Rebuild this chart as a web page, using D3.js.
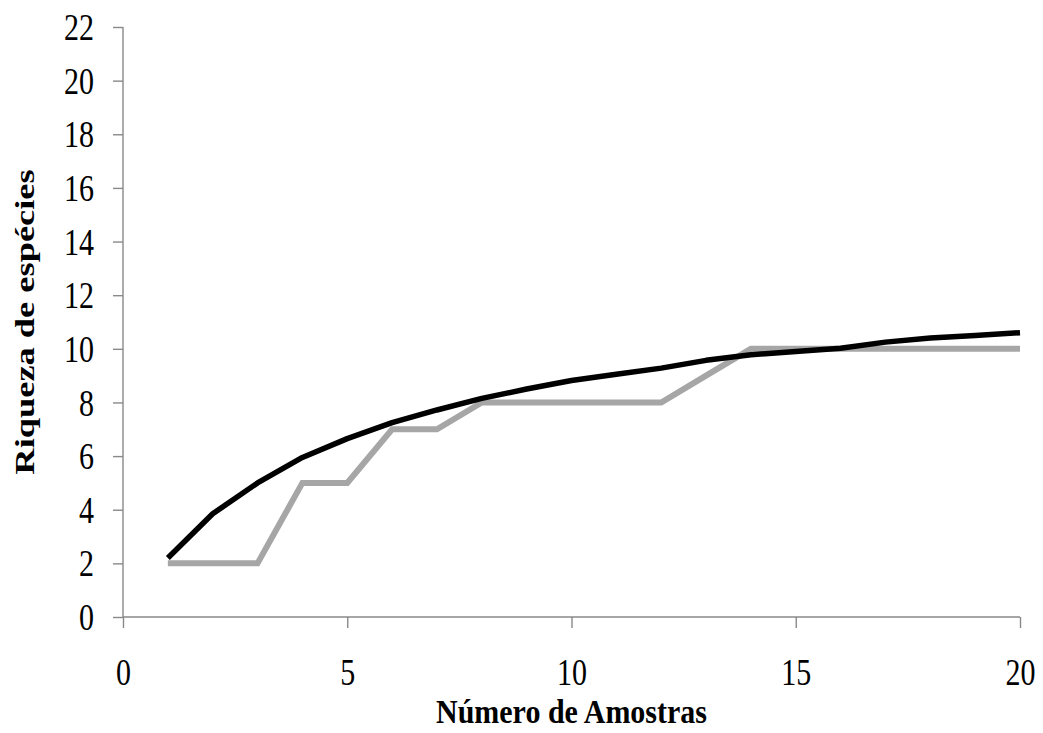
<!DOCTYPE html>
<html>
<head>
<meta charset="utf-8">
<script src="https://cdn.jsdelivr.net/npm/d3@7"></script>
<style>
  html, body { margin: 0; padding: 0; background: #fff; }
  svg { display: block; }
  text { font-family: "Liberation Serif", "Times New Roman", serif; fill: #000; }
</style>
</head>
<body>
<svg id="chart" width="1043" height="733"></svg>
<script>
// Species accumulation: observed richness and estimated curve per number of samples
const samples = [1, 2, 3, 4, 5, 6, 7, 8, 9, 10, 11, 12, 13, 14, 15, 16, 17, 18, 19, 20];
const observed = [2, 2, 2, 5, 5, 7, 7, 8, 8, 8, 8, 8, 9, 10, 10, 10, 10, 10, 10, 10];
const estimated = [2.2, 3.85, 5.0, 5.95, 6.65, 7.25, 7.72, 8.15, 8.5, 8.82, 9.05, 9.28, 9.57, 9.78, 9.9, 10.02, 10.25, 10.4, 10.5, 10.6];
const xTicks = [0, 5, 10, 15, 20];
const yTicks = [0, 2, 4, 6, 8, 10, 12, 14, 16, 18, 20, 22];
const xTitle = "Número de Amostras";
const yTitle = "Riqueza de espécies";

const svg = d3.select("#chart");
const plot = { left: 123, right: 1020, top: 27, bottom: 617 };

const x = d3.scaleLinear().domain([0, 20]).range([plot.left, plot.right]);
const y = d3.scaleLinear().domain([0, 22]).range([plot.bottom, plot.top]);

const axisColor = "#898989";
const textStretch = 1.23;

// Y axis
const yAxis = svg.append("g")
  .attr("transform", `translate(${plot.left},0)`)
  .call(d3.axisLeft(y).tickValues(yTicks).tickSize(10).tickFormat(d3.format("d")));
yAxis.select(".domain").attr("stroke", axisColor).attr("stroke-width", 1.4)
  .attr("d", `M0,${plot.top}V${plot.bottom}`);
yAxis.selectAll(".tick line").attr("stroke", axisColor).attr("stroke-width", 1.4);
yAxis.selectAll(".tick text")
  .attr("x", null).attr("dy", null)
  .attr("y", 0)
  .attr("text-anchor", "end")
  .attr("font-size", 30)
  .attr("dy", "0.34em")
  .attr("transform", `translate(-29,0) scale(1,${textStretch})`);

// X axis
const xAxis = svg.append("g")
  .attr("transform", `translate(0,${plot.bottom})`)
  .call(d3.axisBottom(x).tickValues(xTicks).tickSize(11).tickFormat(d3.format("d")));
xAxis.select(".domain").attr("stroke", axisColor).attr("stroke-width", 1.4)
  .attr("d", `M${plot.left},0H${plot.right}`);
xAxis.selectAll(".tick line").attr("stroke", axisColor).attr("stroke-width", 1.4);
xAxis.selectAll(".tick text")
  .attr("y", 0).attr("dy", null)
  .attr("text-anchor", "middle")
  .attr("font-size", 30)
  .attr("transform", `translate(0,68) scale(1,${textStretch})`);

// Series lines
const line = d3.line()
  .x((d, i) => x(samples[i]))
  .y(d => y(d));

svg.append("path")
  .datum(observed)
  .attr("fill", "none")
  .attr("stroke", "#a6a6a6")
  .attr("stroke-width", 6)
  .attr("stroke-linejoin", "miter")
  .attr("d", line);

svg.append("path")
  .datum(estimated)
  .attr("fill", "none")
  .attr("stroke", "#000")
  .attr("stroke-width", 5.5)
  .attr("stroke-linejoin", "round")
  .attr("d", line);

// Axis titles
svg.append("text")
  .attr("text-anchor", "middle")
  .attr("font-size", 30)
  .attr("font-weight", "bold")
  .attr("transform", `translate(${(plot.left + plot.right) / 2},723) scale(1,1.12)`)
  .text(xTitle);

svg.append("text")
  .attr("text-anchor", "middle")
  .attr("font-size", 28)
  .attr("font-weight", "bold")
  .attr("transform", `translate(34,${(plot.top + plot.bottom) / 2}) rotate(-90) scale(1.3,1)`)
  .text(yTitle);
</script>
</body>
</html>
